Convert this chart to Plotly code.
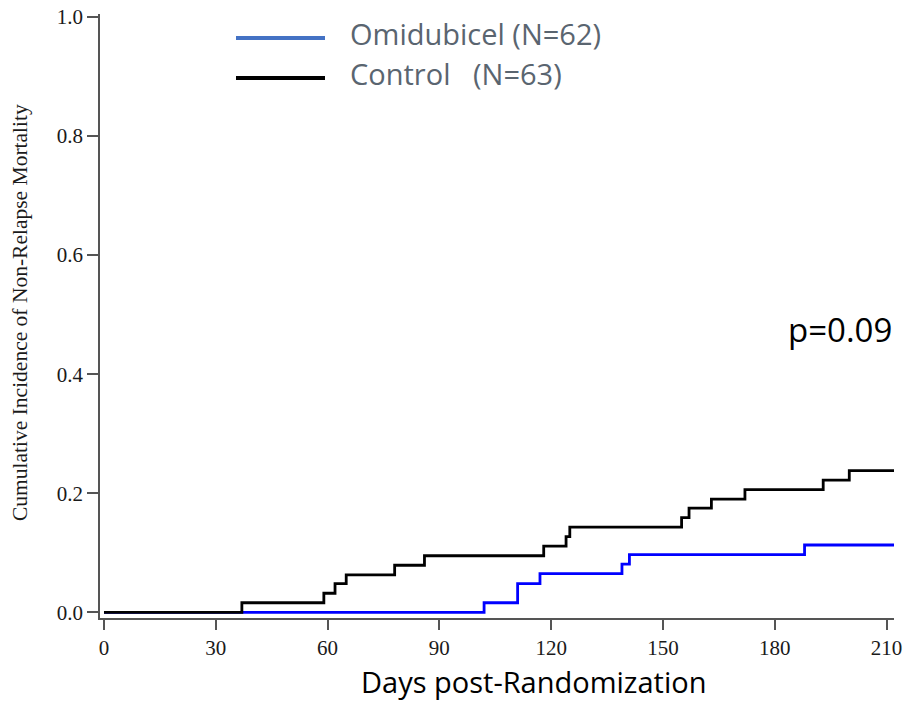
import plotly.graph_objects as go

# Cumulative incidence of non-relapse mortality (step functions)
control_days = [0, 37, 59, 62, 65, 78, 86, 118, 124, 125, 155, 157, 163, 172, 193, 200, 212]
control_ci = [0.0, 0.016, 0.032, 0.048, 0.063, 0.079, 0.095, 0.111, 0.127, 0.143,
              0.159, 0.175, 0.190, 0.206, 0.222, 0.238, 0.238]

omid_days = [0, 102, 111, 117, 139, 141, 188, 212]
omid_ci = [0.0, 0.016, 0.048, 0.065, 0.081, 0.097, 0.113, 0.113]

x_ticks = [0, 30, 60, 90, 120, 150, 180, 210]
y_ticks = [0.0, 0.2, 0.4, 0.6, 0.8, 1.0]

legend_labels = ["Omidubicel (N=62)", "Control\u00a0\u00a0\u00a0(N=63)"]
legend_colors = ["#4472C4", "#000000"]

W, H = 906, 701
ML, MR, MT, MB = 100, 12, 14, 83
PW, PH = W - ML - MR, H - MT - MB


def px(xp):
    return (xp - ML) / PW


def py(yp):
    return (H - MB - yp) / PH


fig = go.Figure()
fig.add_trace(go.Scatter(x=omid_days, y=omid_ci, mode="lines", line_shape="hv",
                         line=dict(color="#0000ff", width=2.8), name=legend_labels[0],
                         showlegend=False))
fig.add_trace(go.Scatter(x=control_days, y=control_ci, mode="lines", line_shape="hv",
                         line=dict(color="#000000", width=2.8), name=legend_labels[1],
                         showlegend=False))

axis_common = dict(showgrid=False, zeroline=False, showline=True, linecolor="#555555",
                   linewidth=1.5, ticks="outside", tickcolor="#555555", tickwidth=1.5,
                   automargin=False,
                   tickfont=dict(family="Liberation Serif", size=21, color="#1a1a1a"))

fig.update_xaxes(range=[-1.07, 212.0], tickvals=x_ticks, ticklen=10, **axis_common)
fig.update_yaxes(range=[-0.0096, 1.005], tickvals=y_ticks, tickformat=".1f",
                 ticklen=11, **axis_common)

shapes = []
annotations = []
for i, (lab, col) in enumerate(zip(legend_labels, legend_colors)):
    ly = [38, 78][i]
    shapes.append(dict(type="line", xref="paper", yref="paper",
                       x0=px(236), x1=px(325), y0=py(ly), y1=py(ly),
                       line=dict(color=col, width=4)))
    annotations.append(dict(text=lab, xref="paper", yref="paper", x=px(348), y=py(ly - 5),
                            xanchor="left", yanchor="middle", showarrow=False,
                            font=dict(family="Open Sans", size=29, color="#5a6570")))

annotations.append(dict(text="p=0.09", xref="paper", yref="paper", x=px(840), y=py(329),
                        xanchor="center", yanchor="middle", showarrow=False,
                        font=dict(family="Open Sans", size=33, color="#000000")))
annotations.append(dict(text="Days post-Randomization", xref="paper", yref="paper",
                        x=px(533), y=py(681), xanchor="center", yanchor="middle",
                        showarrow=False,
                        font=dict(family="Open Sans", size=29, color="#000000")))
annotations.append(dict(text="Cumulative Incidence of Non-Relapse Mortality", xref="paper",
                        yref="paper", x=px(20), y=py(313), xanchor="center",
                        yanchor="middle", textangle=-90, showarrow=False,
                        font=dict(family="Liberation Serif", size=21.5, color="#1a1a1a")))

fig.update_layout(width=W, height=H, margin=dict(l=ML, r=MR, t=MT, b=MB, autoexpand=False),
                  paper_bgcolor="white", plot_bgcolor="white",
                  shapes=shapes, annotations=annotations, showlegend=False)

fig.write_html("out.html")
